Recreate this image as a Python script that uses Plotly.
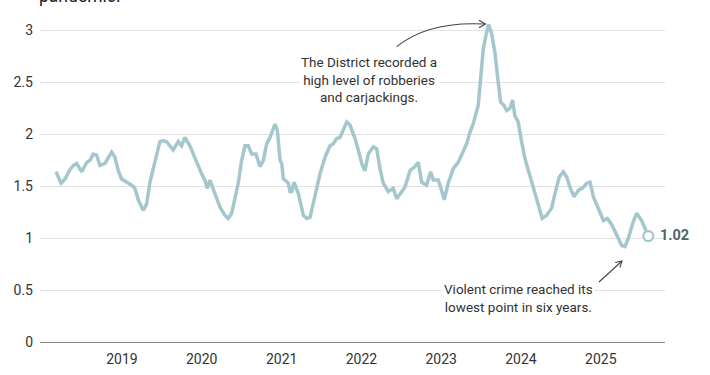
import plotly.graph_objects as go
import pandas as pd

# ---- data (decimal year, violent crimes ratio) ----
years = [
    2018.173, 2018.236, 2018.286, 2018.348, 2018.390, 2018.432, 2018.495, 2018.558, 2018.599, 2018.640,
    2018.683, 2018.724, 2018.787, 2018.828, 2018.871, 2018.912, 2018.954, 2018.996, 2019.059, 2019.122,
    2019.163, 2019.204, 2019.267, 2019.310, 2019.351, 2019.414, 2019.476, 2019.518, 2019.560, 2019.643,
    2019.706, 2019.748, 2019.789, 2019.852, 2019.893, 2019.956, 2019.999, 2020.040, 2020.069, 2020.103,
    2020.144, 2020.187, 2020.228, 2020.291, 2020.332, 2020.375, 2020.416, 2020.457, 2020.500, 2020.541,
    2020.583, 2020.625, 2020.679, 2020.729, 2020.771, 2020.813, 2020.855, 2020.917, 2020.946, 2020.980,
    2021.001, 2021.021, 2021.043, 2021.064, 2021.084, 2021.105, 2021.127, 2021.155, 2021.209, 2021.272,
    2021.315, 2021.356, 2021.419, 2021.481, 2021.544, 2021.607, 2021.648, 2021.690, 2021.732, 2021.773,
    2021.816, 2021.857, 2021.920, 2021.961, 2022.004, 2022.045, 2022.086, 2022.149, 2022.192, 2022.233,
    2022.274, 2022.337, 2022.400, 2022.442, 2022.505, 2022.546, 2022.609, 2022.672, 2022.713, 2022.756,
    2022.818, 2022.868, 2022.901, 2022.964, 2023.006, 2023.039, 2023.089, 2023.152, 2023.214, 2023.257,
    2023.320, 2023.361, 2023.402, 2023.465, 2023.495, 2023.528, 2023.561, 2023.595, 2023.633, 2023.674,
    2023.716, 2023.746, 2023.787, 2023.821, 2023.862, 2023.896, 2023.925, 2023.966, 2024.009, 2024.050,
    2024.091, 2024.154, 2024.217, 2024.267, 2024.322, 2024.385, 2024.426, 2024.480, 2024.530, 2024.573,
    2024.614, 2024.664, 2024.718, 2024.781, 2024.823, 2024.865, 2024.906, 2024.969, 2025.032, 2025.082,
    2025.137, 2025.199, 2025.262, 2025.303, 2025.345, 2025.407, 2025.450, 2025.512, 2025.554, 2025.595,
]
values = [
    1.64, 1.53, 1.57, 1.66, 1.70, 1.72, 1.64, 1.73, 1.75, 1.81,
    1.80, 1.70, 1.72, 1.77, 1.83, 1.78, 1.65, 1.57, 1.54, 1.51,
    1.48, 1.37, 1.27, 1.33, 1.54, 1.75, 1.93, 1.94, 1.93, 1.85,
    1.93, 1.89, 1.97, 1.89, 1.81, 1.70, 1.62, 1.56, 1.48, 1.56,
    1.48, 1.40, 1.30, 1.22, 1.19, 1.24, 1.40, 1.53, 1.75, 1.89,
    1.89, 1.81, 1.81, 1.69, 1.75, 1.91, 1.97, 2.10, 2.04, 1.75,
    1.72, 1.57, 1.56, 1.54, 1.53, 1.45, 1.45, 1.54, 1.43, 1.22,
    1.19, 1.20, 1.43, 1.62, 1.78, 1.89, 1.91, 1.96, 1.97, 2.04,
    2.12, 2.09, 1.96, 1.85, 1.72, 1.65, 1.81, 1.88, 1.86, 1.67,
    1.53, 1.45, 1.48, 1.38, 1.45, 1.49, 1.65, 1.69, 1.73, 1.54,
    1.51, 1.64, 1.56, 1.56, 1.46, 1.37, 1.53, 1.67, 1.73, 1.80,
    1.91, 2.02, 2.10, 2.28, 2.50, 2.82, 2.95, 3.06, 2.97, 2.79,
    2.50, 2.31, 2.28, 2.23, 2.25, 2.33, 2.18, 2.12, 1.93, 1.77,
    1.66, 1.49, 1.30, 1.19, 1.22, 1.29, 1.43, 1.59, 1.64, 1.59,
    1.49, 1.40, 1.46, 1.49, 1.53, 1.54, 1.40, 1.29, 1.17, 1.19,
    1.13, 1.03, 0.93, 0.92, 1.00, 1.16, 1.24, 1.17, 1.09, 1.02,
]
tick_years = [2019, 2020, 2021, 2022, 2023, 2024, 2025]
y_ticks = [0, 0.5, 1, 1.5, 2, 2.5, 3]
y_tick_labels = ["0", "0.5", "1", "1.5", "2", "2.5", "3"]
last_label = "1.02"
note_peak = "The District recorded a<br>high level of robberies<br>and carjackings."
note_low = "Violent crime reached its<br>lowest point in six years."
subtitle_tail = "pandemic."


def to_date(dy):
    y = int(dy)
    start = pd.Timestamp(year=y, month=1, day=1)
    end = pd.Timestamp(year=y + 1, month=1, day=1)
    return start + (end - start) * (dy - y)


dates = [to_date(v) for v in years]

W, H = 710, 375
ML, MR, MT, MB = 40, 45, 15, 33
PW, PH = W - ML - MR, H - MT - MB
Y_TOP = 3.15


def px(x, y):
    # pixel position in the figure -> paper coords
    return (x - ML) / PW, (H - MB - y) / PH


LINE = "#a4c7ce"
TEXT = "#333333"
FONT = "Roboto"

fig = go.Figure()
fig.add_trace(go.Scatter(
    x=dates, y=values, mode="lines",
    line=dict(color=LINE, width=3.5, shape="linear"),
    hoverinfo="skip", showlegend=False,
))
fig.add_trace(go.Scatter(
    x=[dates[-1]], y=[values[-1]], mode="markers",
    marker=dict(size=10, color="white", line=dict(color=LINE, width=2.2)),
    hoverinfo="skip", showlegend=False,
))

fig.add_annotation(
    x=dates[-1], y=values[-1], xref="x", yref="y", text="<b>" + last_label + "</b>",
    showarrow=False, xanchor="left", yanchor="middle", xshift=10, yshift=1,
    font=dict(family=FONT, size=14.5, color="#4f6469"),
)

x0, y0 = px(369, 79)
fig.add_annotation(
    x=x0, y=y0, xref="paper", yref="paper", text=note_peak, showarrow=False,
    xanchor="center", yanchor="middle", align="center", bgcolor="white",
    font=dict(family=FONT, size=13.5, color=TEXT),
)
x1, y1 = px(518, 298)
fig.add_annotation(
    x=x1, y=y1, xref="paper", yref="paper", text=note_low, showarrow=False,
    xanchor="center", yanchor="middle", align="center", bgcolor="white",
    font=dict(family=FONT, size=13.5, color=TEXT),
)

# clipped subtitle text at the very top
sx, sy = px(37, 8)
fig.add_annotation(
    x=sx, y=sy, xref="paper", yref="paper", text=subtitle_tail, showarrow=False,
    xanchor="left", yanchor="bottom", font=dict(family=FONT, size=17.5, color="#222222"),
)


def path_pts(cmds):
    out = []
    for c in cmds:
        if isinstance(c, str):
            out.append(c)
        else:
            a, b = px(*c)
            out.append(f"{a:.4f},{b:.4f}")
    return " ".join(out)


arrow_col = "#444444"
fig.add_shape(type="path", xref="paper", yref="paper",
              path=path_pts(["M", (396.7, 46.7), "Q", (428, 21), (485, 24)]),
              line=dict(color=arrow_col, width=1.1))
fig.add_shape(type="path", xref="paper", yref="paper",
              path=path_pts(["M", (479, 20.3), "L", (485.5, 24), "L", (479, 27.7)]),
              line=dict(color=arrow_col, width=1.1))
fig.add_shape(type="path", xref="paper", yref="paper",
              path=path_pts(["M", (599, 282), "L", (622, 261)]),
              line=dict(color=arrow_col, width=1.1))
fig.add_shape(type="path", xref="paper", yref="paper",
              path=path_pts(["M", (615.2, 262.5), "L", (622, 261), "L", (619.9, 267.7)]),
              line=dict(color=arrow_col, width=1.1))

fig.update_layout(
    width=W, height=H,
    margin=dict(l=ML, r=MR, t=MT, b=MB, pad=0),
    paper_bgcolor="white", plot_bgcolor="white",
    font=dict(family=FONT, size=14, color=TEXT),
    showlegend=False,
    xaxis=dict(
        type="date", automargin=False,
        range=[to_date(2019 + (ML - 122) / 79.8), to_date(2019 + (W - MR - 122) / 79.8)],
        tickvals=[pd.Timestamp(year=y, month=1, day=1) for y in tick_years],
        ticktext=[str(y) for y in tick_years],
        showgrid=False, zeroline=False, showline=False, ticks="",
        ticklabelstandoff=7,
        tickfont=dict(family=FONT, size=14, color=TEXT),
    ),
    yaxis=dict(
        range=[0, Y_TOP], automargin=False,
        tickvals=y_ticks, ticktext=y_tick_labels,
        showgrid=True, gridcolor="#e2e2e2", gridwidth=1,
        zeroline=True, zerolinecolor="#8a8a8a", zerolinewidth=1.2,
        showline=False, ticks="",
        ticklabelstandoff=6,
        tickfont=dict(family=FONT, size=14, color=TEXT),
    ),
)

fig.write_html("out.html", config={"displayModeBar": False},
               post_script="document.body.style.margin='0';")
